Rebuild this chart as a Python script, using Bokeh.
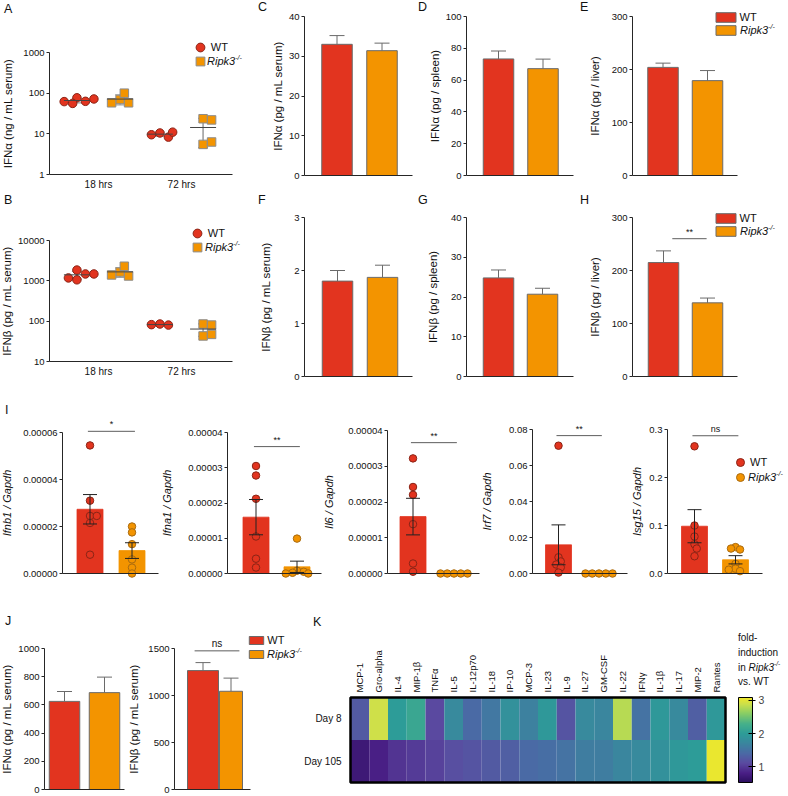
import numpy as np
from bokeh.plotting import figure
from bokeh.layouts import row, column
from bokeh.models import (Range1d, FixedTicker, NumeralTickFormatter, ColumnDataSource,
                          Legend, LegendItem, LinearColorMapper, ColorBar)
from bokeh.core.properties import value
from bokeh.embed import file_html
from bokeh.resources import INLINE

FONT = "Liberation Sans"
RED, ORANGE = "#E2341F", "#F39400"
RED_EDGE, OR_EDGE, SQ_EDGE = "#8A2416", "#A86A10", "#8C8C8C"
AXIS, BAR_EDGE, TXT = "#262626", "#6A6A6A", "#111111"

# ------------------------------------------------------------------ data
groups = ["WT", "Ripk3"]          # Ripk3 is shown italic with a "-/-" superscript
timepoints = ["18 hrs", "72 hrs"]
# A: IFN-alpha (ng / mL serum), individual mice
a_wt_18 = [77, 63, 56, 62, 72]
a_ko_18 = [70, 58, 100, 58]
a_wt_72 = [10.5, 8.3, 9.5, 11.0]
a_ko_72 = [23.5, 22.0, 5.5, 6.3]
# B: IFN-beta (pg / mL serum), individual mice
b_wt_18 = [1850, 1480, 1060, 1180, 1480]
b_ko_18 = [1650, 1320, 2300, 1400]
b_wt_72 = [85, 80, 82]
b_ko_72 = [85, 80, 43, 47]
# C-H, J: mean and SEM  [WT, Ripk3-/-]
c_mean, c_sem = [33.0, 31.4], [2.2, 1.9]
d_mean, d_sem = [73.3, 67.2], [5.0, 6.0]
e_mean, e_sem = [204, 179], [8, 19]
f_mean, f_sem = [1.80, 1.87], [0.20, 0.23]
g_mean, g_sem = [24.8, 20.7], [2.0, 1.5]
h_mean, h_sem = [215, 139], [22, 9]
j1_mean, j1_sem = [625, 687], [70, 110]
j2_mean, j2_sem = [1265, 1045], [85, 140]
# I: qPCR relative to Gapdh, individual mice
ifnb1_wt = [5.45e-5, 3.1e-5, 2.45e-5, 2.45e-5, 2.15e-5, 0.8e-5]
ifnb1_ko = [2.0e-5, 1.75e-5, 1.25e-5, 0.6e-5, 0.25e-5, 0.0]
ifna1_wt = [3.05e-5, 2.78e-5, 2.12e-5, 1.05e-5, 0.42e-5, 0.17e-5]
ifna1_ko = [0.99e-5, 0.08e-5, 0.05e-5, 0.02e-5, 0.0, 0.0]
il6_wt = [3.22e-5, 2.42e-5, 2.2e-5, 1.38e-5, 0.28e-5, 0.05e-5]
il6_ko = [0.0, 0.0, 0.0, 0.0, 0.0]
irf7_wt = [0.071, 0.009, 0.0067, 0.005, 0.0034, 0.0005]
irf7_ko = [0.0, 0.0, 0.0, 0.0, 0.0]
isg15_wt = [0.265, 0.1, 0.077, 0.061, 0.052, 0.036]
isg15_ko = [0.055, 0.05, 0.052, 0.02, 0.01, 0.005, 0.008]
# K: fold induction in Ripk3-/- vs WT
cytokines = ["MCP-1", "Gro-alpha", "IL-4", "MIP-1\u03b2", "TNF\u03b1", "IL-5", "IL-12p70",
             "IL-18", "IP-10", "MCP-3", "IL-23", "IL-9", "IL-27", "GM-CSF", "IL-22",
             "IFN\u03b3", "IL-1\u03b2", "IL-17", "MIP-2", "Rantes"]
days = ["Day 8", "Day 105"]
k_day8 = [1.25, 2.9, 2.0, 2.15, 1.1, 1.75, 1.4, 1.55, 1.85, 1.65, 1.95, 1.2, 1.75, 1.7,
          2.8, 1.5, 1.95, 1.75, 1.3, 1.95]
k_day105 = [0.7, 0.8, 0.95, 1.0, 1.05, 1.15, 1.2, 1.25, 1.3, 1.4, 1.45, 1.5, 1.6, 1.6,
            1.7, 1.75, 1.85, 1.95, 2.0, 3.05]

# colour scale of panel K (value -> colour anchors)
scale_vals = [0.52, 0.8, 1.1, 1.4, 1.7, 2.0, 2.3, 2.6, 2.9, 3.09]
scale_cols = ["#2B0F5E", "#4A1F86", "#5A4AA0", "#4A6AA5", "#3A869E", "#2D9C98",
              "#46B08A", "#86CC66", "#CDE04A", "#F0E82A"]

# ------------------------------------------------------------------ helpers
def cal(px_lo, px_hi, pa, va, pb, vb):
    k = (vb - va) / (pb - pa)
    return va + (px_lo - pa) * k, va + (px_hi - pa) * k


def text_w(s, size):
    return sum(0.278 if ch == "." else 0.556 for ch in s) * size


def make(box, xcal, ycal, ylog=False):
    """Figure whose frame fills the whole box (page px); axes sit at fixed places."""
    x0, x1, y0, y1 = box
    xs, xe = cal(x0, x1, *xcal)
    if ylog:
        pa, va, pb, vb = ycal
        ls, le = cal(y1, y0, pa, np.log10(va), pb, np.log10(vb))
        yr = Range1d(10 ** ls, 10 ** le)
    else:
        ys, ye = cal(y1, y0, *ycal)
        yr = Range1d(ys, ye)
    p = figure(width=x1 - x0, height=y1 - y0, x_range=Range1d(xs, xe), y_range=yr,
               y_axis_type="log" if ylog else "linear",
               output_backend="svg", toolbar_location=None, min_border=0,
               min_border_left=0, min_border_right=0, min_border_top=0,
               min_border_bottom=0)
    p.outline_line_color = None
    p.grid.visible = False
    p.border_fill_color = "white"
    p._box, p._xcal, p._ycal, p._log = box, xcal, ycal, ylog
    p._dummy = p.scatter(x=[], y=[], size=0)
    return p


def xval(p, px):
    return cal(px, px, *p._xcal)[0]


def yval(p, py):
    if p._log:
        pa, va, pb, vb = p._ycal
        return 10 ** cal(py, py, pa, np.log10(va), pb, np.log10(vb))[0]
    return cal(py, py, *p._ycal)[0]


def fmt_tick(t, fmt):
    dec = len(fmt.split(".")[1]) if "." in fmt else 0
    return f"{t:.{dec}f}"


def style_y(p, ax_px, ticks, label, fmt, label_cx, italic=False, lsize=11.5):
    ax = p.yaxis[0]
    ax.fixed_location = xval(p, ax_px)
    ax.ticker = FixedTicker(ticks=ticks)
    ax.bounds = (ticks[0], ticks[-1])
    ax.formatter = NumeralTickFormatter(format=fmt)
    ax.axis_label = label
    ax.axis_label_text_font = FONT
    ax.axis_label_text_font_size = f"{lsize}px"
    ax.axis_label_text_font_style = "italic" if italic else "normal"
    ax.axis_label_text_color = TXT
    tick_w = max(text_w(fmt_tick(t, fmt), 9.5) for t in ticks)
    edge = ax_px - 3 - 2 - tick_w
    ax.axis_label_standoff = max(2, int(round(edge - (label_cx + 0.6 * lsize))))
    ax.major_label_text_font = FONT
    ax.major_label_text_font_size = "9.5px"
    ax.major_label_text_color = TXT
    ax.major_label_standoff = 2
    ax.major_tick_out = 3
    ax.major_tick_in = 0
    ax.minor_tick_out = 0
    ax.minor_tick_in = 0
    ax.axis_line_color = AXIS
    ax.major_tick_line_color = AXIS


def style_x(p, ax_py, ax_px, bound_px, ticks=(), labels=()):
    ax = p.xaxis[0]
    ax.fixed_location = yval(p, ax_py)
    ax.bounds = (xval(p, ax_px), xval(p, bound_px))
    ax.ticker = FixedTicker(ticks=list(ticks))
    ax.major_label_overrides = {t: l for t, l in zip(ticks, labels)}
    ax.major_label_text_font = FONT
    ax.major_label_text_font_size = "10px"
    ax.major_label_text_color = TXT
    ax.major_label_standoff = 4
    ax.major_tick_out = 0
    ax.major_tick_in = 0
    ax.minor_tick_out = 0
    ax.minor_tick_in = 0
    ax.axis_line_color = AXIS


def free_text(p, text, x_left, y_mid, fs="11px", style="normal", h=12):
    """Text placed in page pixels (drawn as a glyph-less legend entry)."""
    x0, x1, y0, y1 = p._box
    lg = Legend(items=[LegendItem(label=text, renderers=[p._dummy])],
                location=(x_left - x0, y1 - (y_mid + h / 2)),
                glyph_width=0, glyph_height=h, label_standoff=0, label_height=h,
                label_width=0, padding=0, margin=0, spacing=0,
                border_line_alpha=0, background_fill_alpha=0,
                label_text_font=FONT, label_text_font_size=fs,
                label_text_font_style=style, label_text_color=TXT)
    p.add_layout(lg, "center")


def letter(p, text, px, py):
    free_text(p, text, px, py + 7, fs="12.5px", h=14)


def ko_text(p, x_left, y_mid, fs=11):
    free_text(p, groups[1], x_left, y_mid, fs=f"{fs}px", style="italic")
    free_text(p, "-/-", x_left + 2.56 * fs, y_mid - 0.33 * fs, fs=f"{0.64 * fs:.1f}px",
              style="italic", h=8)


def legend_entry(p, renderer, index, label, left, top, gw, gh, text_x, fs="11px"):
    x0, x1, y0, y1 = p._box
    lg = Legend(items=[LegendItem(label=label, renderers=[renderer], index=index)],
                location=(left - x0, y1 - (top + gh)),
                glyph_width=int(round(gw)), glyph_height=int(round(gh)),
                label_standoff=int(round(text_x - (left + gw))),
                label_height=int(round(gh)), label_width=0, padding=0, margin=0,
                spacing=0, background_fill_alpha=0, border_line_alpha=0,
                label_text_font=FONT, label_text_font_size=fs,
                label_text_color=TXT)
    p.add_layout(lg, "center")


def bar_legend(p, bars, x_left, x_right, tops, h, text_x, fs=11):
    w = (x_right - x_left) / 0.8
    gh = h / 0.8
    for i, top in enumerate(tops):
        lab = groups[0] if i == 0 else ""
        legend_entry(p, bars, i, lab, x_left - 0.1 * w, top - 0.1 * gh, w, gh, text_x,
                     fs=f"{fs}px")
    ko_text(p, text_x, tops[1] + h / 2, fs)


def marker_legend(p, rends, cx, cys, d, text_x, fs=11):
    g = d / 0.4
    legend_entry(p, rends[0], 0, groups[0], cx - g / 2, cys[0] - g / 2, g, g, text_x,
                 fs=f"{fs}px")
    legend_entry(p, rends[1], 0, "", cx - g / 2, cys[1] - g / 2, g, g, text_x,
                 fs=f"{fs}px")
    ko_text(p, text_x, cys[1], fs)


def swarm(vals, kx, ky, diam, log=False, min_frac=0.8, step_frac=0.4):
    y = np.asarray(vals, float)
    y = np.log10(y) if log else y
    ypx = y * ky
    placed, off = [], np.zeros(len(y))
    for i in range(len(y)):
        k = 0
        while True:
            c = ((k + 1) // 2) * (1 if k % 2 else -1) * step_frac * diam
            if all(np.hypot(c - qx, ypx[i] - qy) >= min_frac * diam for qx, qy in placed):
                break
            k += 1
        placed.append((c, ypx[i]))
        off[i] = c / kx
    return off


def kx_of(p):
    x0, x1, y0, y1 = p._box
    return (x1 - x0) / (p.x_range.end - p.x_range.start)


def ky_of(p):
    x0, x1, y0, y1 = p._box
    if p._log:
        return (y1 - y0) / (np.log10(p.y_range.end) - np.log10(p.y_range.start))
    return (y1 - y0) / (p.y_range.end - p.y_range.start)


def bar_panel(p, means, sems, widths_px):
    xs = [1, 2]
    kx = kx_of(p)
    bars = p.vbar(x=xs, top=means, width=[w / kx for w in widths_px],
                  fill_color=[RED, ORANGE], line_color=BAR_EDGE, line_width=1)
    tops = [m + s for m, s in zip(means, sems)]
    cw = 7.5 / kx
    p.segment(x0=xs, y0=means, x1=xs, y1=tops, line_color=BAR_EDGE, line_width=1)
    p.segment(x0=[x - cw for x in xs], y0=tops, x1=[x + cw for x in xs], y1=tops,
              line_color=BAR_EDGE, line_width=1)
    return bars


def dot_panel(p, data):
    kx, ky = kx_of(p), ky_of(p)
    half, cap = 13 / kx, 5 / kx
    rends = []
    for cat, (wt, ko) in enumerate(data, start=1):
        for vals, off, mk, fc, lc in [(wt, -0.26, "circle", RED, RED_EDGE),
                                      (ko, 0.26, "square", ORANGE, SQ_EDGE)]:
            v = np.asarray(vals, float)
            m, sd = v.mean(), v.std(ddof=1)
            xc = cat + off
            xs = xc + swarm(v, kx, ky, 8.5, log=True, min_frac=0.75, step_frac=0.5)
            p.segment(x0=[xc], y0=[m - sd], x1=[xc], y1=[m + sd], line_color="#A0A0A0",
                      line_width=1.6)
            p.segment(x0=[xc - cap, xc - cap], y0=[m - sd, m + sd],
                      x1=[xc + cap, xc + cap], y1=[m - sd, m + sd],
                      line_color="#A0A0A0", line_width=1.2)
            r = p.scatter(x=xs, y=v, marker=mk, size=8.5, fill_color=fc, line_color=lc,
                          line_width=1)
            rends.append(r)
            p.segment(x0=[xc - half], y0=[m], x1=[xc + half], y1=[m],
                      line_color="#444444", line_width=1)
    return rends[:2]


def dotbar_panel(p, wt, ko, width=0.63):
    kx, ky = kx_of(p), ky_of(p)
    cap = 7 / kx
    rends = []
    for cat, vals, fc, lc in [(1, wt, RED, RED_EDGE), (2, ko, ORANGE, OR_EDGE)]:
        v = np.asarray(vals, float)
        m = v.mean()
        se = v.std(ddof=1) / np.sqrt(len(v))
        lo = max(m - se, 0)
        p.vbar(x=[cat], top=[m], width=width, fill_color=fc, line_color=fc, line_width=0.8)
        xs = cat + swarm(v, kx, ky, 7.5, min_frac=0.62, step_frac=0.3)
        rends.append(p.scatter(x=xs, y=v, marker="circle", size=7.5, fill_color=fc,
                               line_color=lc, line_width=1))
        p.segment(x0=[cat], y0=[lo], x1=[cat], y1=[m + se], line_color="#222222",
                  line_width=1)
        p.segment(x0=[cat - cap, cat - cap], y0=[lo, m + se], x1=[cat + cap, cat + cap],
                  y1=[lo, m + se], line_color="#222222", line_width=1)
    return rends


def sig(p, x_from, x_to, yv, text, size="9px"):
    p.segment(x0=[x_from], y0=[yv], x1=[x_to], y1=[yv], line_color="#333333",
              line_width=0.8)
    p.text(x=[(x_from + x_to) / 2], y=[yv], text=[text], text_font=value(FONT),
           text_font_size=size, text_align="center", text_baseline="bottom",
           y_offset=-2, text_color=TXT)


def interp_palette(vals, cols, lo, hi, n=256):
    rgb = np.array([[int(c[i:i + 2], 16) for i in (1, 3, 5)] for c in cols], float)
    out = []
    for t in np.linspace(lo, hi, n):
        r = [np.interp(t, vals, rgb[:, k]) for k in range(3)]
        out.append("#%02X%02X%02X" % tuple(int(round(c)) for c in r))
    return out


# ------------------------------------------------------------------ layout boxes
# figure boxes (x0, x1, y0, y1) in page px; the frame fills each box
BOX_A, BOX_C, BOX_D, BOX_E = (0, 258, 0, 194), (258, 417, 0, 194), (417, 580, 0, 194), (580, 788, 0, 194)
BOX_B, BOX_F, BOX_G, BOX_H = (0, 258, 194, 385), (258, 417, 194, 385), (417, 580, 194, 385), (580, 788, 194, 385)
BOX_I = [(0, 160, 385, 600), (160, 322, 385, 600), (322, 480, 385, 600),
         (480, 630, 385, 600), (630, 788, 385, 600)]
BOX_J1, BOX_J2, BOX_K = (0, 125, 600, 795), (125, 303, 600, 795), (303, 788, 600, 795)

# ------------------------------------------------------------------ A
pA = make(BOX_A, (98, 1, 181, 2), (174, 1, 52, 1000), ylog=True)
rA = dot_panel(pA, [(a_wt_18, a_ko_18), (a_wt_72, a_ko_72)])
style_y(pA, 49, [1, 10, 100, 1000], "IFN\u03b1 (ng / mL serum)", "0", 10)
style_x(pA, 174, 49, 232, [1, 2], timepoints)
letter(pA, "A", 4, 2)
marker_legend(pA, rA, 200, [47, 61], 9, 207)

# ------------------------------------------------------------------ B
pB = make(BOX_B, (98, 1, 181, 2), (361, 10, 240, 10000), ylog=True)
rB = dot_panel(pB, [(b_wt_18, b_ko_18), (b_wt_72, b_ko_72)])
style_y(pB, 49, [10, 100, 1000, 10000], "IFN\u03b2 (pg / mL serum)", "0", 10)
style_x(pB, 361, 49, 232, [1, 2], timepoints)
letter(pB, "B", 4, 193)
marker_legend(pB, rB, 197, [233, 247], 9, 205)

# ------------------------------------------------------------------ C-H
def simple_bar(box, ax_px, ax_py, xc1, xc2, top_px, top_val, ticks, label, label_cx,
               means, sems, bound_px, bar_px=(30.5, 30.5)):
    p = make(box, (xc1, 1, xc2, 2), (ax_py, 0, top_px, top_val))
    bars = bar_panel(p, means, sems, bar_px)
    style_y(p, ax_px, ticks, label, "0", label_cx)
    style_x(p, ax_py, ax_px, bound_px)
    return p, bars

pC, _ = simple_bar(BOX_C, 304, 175, 336.5, 381.5, 16, 40, [0, 10, 20, 30, 40],
                   "IFN\u03b1 (pg / mL serum)", 281, c_mean, c_sem, 412)
letter(pC, "C", 258, 0)
pD, _ = simple_bar(BOX_D, 466, 175, 498, 542.5, 16, 100, [0, 20, 40, 60, 80, 100],
                   "IFN\u03b1 (pg / spleen)", 439, d_mean, d_sem, 573)
letter(pD, "D", 418, 0)
pE, bE = simple_bar(BOX_E, 632, 175, 662.5, 707, 16, 300, [0, 100, 200, 300],
                    "IFN\u03b1 (pg / liver)", 596, e_mean, e_sem, 737)
letter(pE, "E", 580, 0)
bar_legend(pE, bE, 715, 735, [12, 25], 10, 740)

pF, _ = simple_bar(BOX_F, 304, 376, 337, 382, 217, 3, [0, 1, 2, 3],
                   "IFN\u03b2 (pg / mL serum)", 268, f_mean, f_sem, 412)
letter(pF, "F", 258, 193)
pG, _ = simple_bar(BOX_G, 466, 376, 498, 542, 217, 40, [0, 10, 20, 30, 40],
                   "IFN\u03b2 (pg / spleen)", 435, g_mean, g_sem, 573)
letter(pG, "G", 418, 193)
pH, bH = simple_bar(BOX_H, 632, 376, 663, 707, 217, 300, [0, 100, 200, 300],
                    "IFN\u03b2 (pg / liver)", 596, h_mean, h_sem, 737)
letter(pH, "H", 580, 193)
sig(pH, 1.2, 1.98, 260, "**")
bar_legend(pH, bH, 715, 735, [213, 226], 10, 740)

# ------------------------------------------------------------------ I
def i_panel(box, ax_px, xc1, xc2, top_px, top_val, ticks, label, label_cx, fmt, wt, ko,
            bound_px, sig_y, sig_txt):
    p = make(box, (xc1, 1, xc2, 2), (573, 0, top_px, top_val))
    rends = dotbar_panel(p, wt, ko, 26 / (xc2 - xc1))
    style_y(p, ax_px, ticks, label, fmt, label_cx, italic=True, lsize=11)
    style_x(p, 573, ax_px, bound_px)
    sig(p, 0.95, 2.07, sig_y, sig_txt)
    return p, rends

pI1, _ = i_panel(BOX_I[0], 62, 89.5, 131.5, 432, 6e-5, [0, 2e-5, 4e-5, 6e-5],
                 "Ifnb1 / Gapdh", 9, "0.00000", ifnb1_wt, ifnb1_ko, 158, 6.05e-5, "*")
letter(pI1, "I", 5, 403)
pI2, _ = i_panel(BOX_I[1], 227, 255.5, 296.5, 432, 4e-5, [0, 1e-5, 2e-5, 3e-5, 4e-5],
                 "Ifna1 / Gapdh", 169, "0.00000", ifna1_wt, ifna1_ko, 321, 3.6e-5, "**")
pI3, _ = i_panel(BOX_I[2], 387, 412.5, 453.5, 430, 4e-5, [0, 1e-5, 2e-5, 3e-5, 4e-5],
                 "Il6 / Gapdh", 331, "0.00000", il6_wt, il6_ko, 479, 3.66e-5, "**")
pI4, _ = i_panel(BOX_I[3], 532, 558, 598.5, 429, 0.08, [0, 0.02, 0.04, 0.06, 0.08],
                 "Irf7 / Gapdh", 489, "0.00", irf7_wt, irf7_ko, 627, 0.0766, "**")
pI5, rI5 = i_panel(BOX_I[4], 667, 694, 735, 429, 0.3, [0, 0.1, 0.2, 0.3],
                   "Isg15 / Gapdh", 639, "0.0", isg15_wt, isg15_ko, 762, 0.287, "ns")
marker_legend(pI5, rI5, 740, [462, 477], 8, 748)

# ------------------------------------------------------------------ J
pJ1, _ = simple_bar(BOX_J1, 44, 789, 64, 104, 648, 1000, [0, 200, 400, 600, 800, 1000],
                    "IFN\u03b1 (pg / mL serum)", 9, j1_mean, j1_sem, 124)
letter(pJ1, "J", 5, 614)
pJ2, bJ = simple_bar(BOX_J2, 174, 789, 202.5, 230.5, 648, 1500, [0, 500, 1000, 1500],
                     "IFN\u03b2 (pg / mL serum)", 136, j2_mean, j2_sem, 250,
                     bar_px=(31, 23))
sig(pJ2, 0.7, 2.3, 1475, "ns", size="10px")
bar_legend(pJ2, bJ, 249, 263, [637, 650], 8, 267)

# ------------------------------------------------------------------ K
mapper = LinearColorMapper(palette=interp_palette(scale_vals, scale_cols, 0.52, 3.09),
                           low=0.52, high=3.09)
ncol = len(cytokines)
pK = make(BOX_K, (350, -0.5, 725, ncol - 0.5), (782, -0.5, 697, len(days) - 0.5))
kx = list(range(ncol)) * 2
ky = [1] * ncol + [0] * ncol
srcK = ColumnDataSource(dict(x=kx, y=ky, v=k_day8 + k_day105))
pK.rect(x="x", y="y", width=1, height=1, fill_color={"field": "v", "transform": mapper},
        line_color=None, source=srcK)
pK.rect(x=[(ncol - 1) / 2], y=[0.5], width=ncol, height=len(days), fill_color=None,
        line_color="black", line_width=2.5)
pK.text(x=list(range(ncol)), y=[yval(pK, 692)] * ncol, text=cytokines, angle=np.pi / 2,
        text_font=value(FONT), text_font_size="9.5px", text_align="left",
        text_baseline="middle", text_color=TXT)
pK.text(x=[-0.5] * len(days), y=[1, 0], text=days, x_offset=-9,
        text_font=value(FONT), text_font_size="10px", text_align="right",
        text_baseline="middle", text_color=TXT)
pK.xaxis.visible = False
pK.yaxis.visible = False
letter(pK, "K", 313, 615)
cb = ColorBar(color_mapper=mapper, location=(738 - 303, 795 - 782), width=14, height=85,
              ticker=FixedTicker(ticks=[1, 2, 3]), padding=0, margin=0,
              major_label_text_font=FONT, major_label_text_font_size="10.5px",
              label_standoff=3, bar_line_color="black", major_tick_line_color="black",
              major_tick_in=4, major_tick_out=3, background_fill_alpha=0,
              border_line_color=None)
pK.add_layout(cb, "center")
free_text(pK, "fold-", 738, 637, fs="10px")
free_text(pK, "induction", 738, 652, fs="10px")
free_text(pK, "in", 738, 667, fs="10px")
ko_text(pK, 748.5, 667, 10)
free_text(pK, "vs. WT", 738, 681, fs="10px")

layout = column(
    row(pA, pC, pD, pE, spacing=0),
    row(pB, pF, pG, pH, spacing=0),
    row(pI1, pI2, pI3, pI4, pI5, spacing=0),
    row(pJ1, pJ2, pK, spacing=0),
    spacing=0,
)

open("out.html", "w").write(file_html(layout, INLINE))
